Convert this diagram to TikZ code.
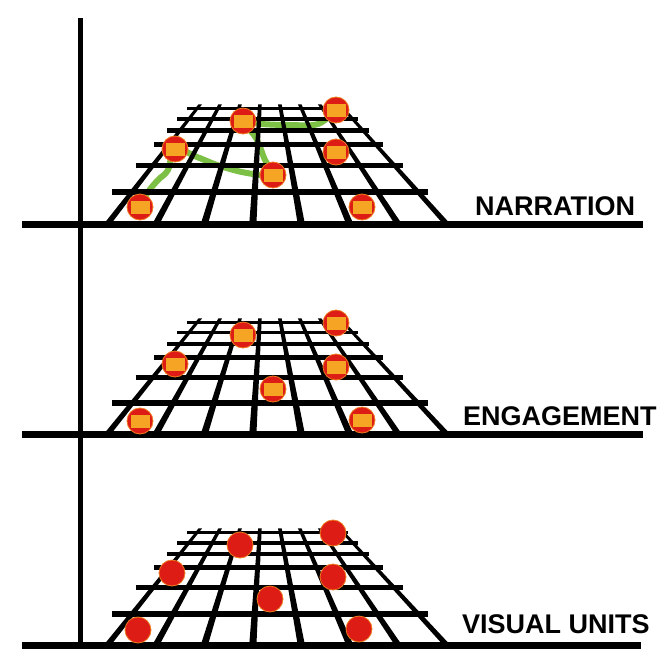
\documentclass[tikz,border=0pt]{standalone}
\usepackage{fontspec}
\setmainfont{Liberation Sans}
\usetikzlibrary{backgrounds}

\definecolor{unitred}{RGB}{222,28,22}
\definecolor{unitorange}{RGB}{245,165,35}
\definecolor{trailgreen}{RGB}{125,192,70}

\tikzset{
  axis/.style={line width=5pt},
  floor/.style={line width=7.5pt},
  trail/.style={draw=trailgreen,line width=6pt,line cap=round,line join=round},
  unit/.style={circle,fill=unitred,draw=unitorange!70!unitred,line width=0.8pt,inner sep=0pt,minimum size=26pt},
  marked/.style={unit,path picture={\fill[unitorange]
      ([xshift=-9.5pt,yshift=-6.5pt]path picture bounding box.center) rectangle
      ([xshift=9.5pt,yshift=6.5pt]path picture bounding box.center);}},
  level/.style={font=\fontsize{27}{30}\selectfont\bfseries,inner sep=0pt,anchor=base west}
}

\begin{document}
\begin{tikzpicture}[x=1pt,y=-1pt]
\useasboundingbox (0,0) rectangle (661,653);

% grids, one per level
\foreach \base/\h in {224.5/116,434.5/112,645.5/113}{
  \foreach \i in {0,...,7}
    \fill ({107+48.6*\i-3.6},\base) -- ({107+48.6*\i+3.6},\base)
      -- ({107+48.6*\i+1.036*(90-27.7*\i)+1.8},{\base-1.036*\h})
      -- ({107+48.6*\i+1.036*(90-27.7*\i)-1.8},{\base-1.036*\h}) -- cycle;
  \foreach \t in {0.28,0.51,0.69,0.81,0.91,1}
    \draw[line width={(7-3.5*\t)*1pt}] ({107+90*\t-0.5*(48.6-27.7*\t)},{\base-\t*\h})
      -- ({447-104*\t+0.25*(48.6-27.7*\t)},{\base-\t*\h});
}

\draw[axis] (80,18)--(80,645.5);
\draw[floor] (22,224.5)--(643,224.5);
\draw[floor] (22,434.5)--(643,434.5);
\draw[floor] (22,645.5)--(641,645.5);

\node[level] (narration) at (475,215) {NARRATION};
\node[level] (engagement) at (463,425) {ENGAGEMENT};
\node[level] (visual) at (462,633) {VISUAL UNITS};

% narration
\node[marked] (t1) at (140,207) {};
\node[marked] (t2) at (175,149) {};
\node[marked] (t3) at (243,121) {};
\node[marked] (t4) at (273,175) {};
\node[marked] (t5) at (336,110) {};
\node[marked] (t6) at (336,152) {};
\node[marked] (t7) at (362,207) {};

\begin{scope}[on background layer]
\draw[trail] plot[smooth,tension=0.6] coordinates {(t1) (148,192) (158,180) (168,170) (t2)
  (197,157) (220,166) (247,173) (t4) (265,160) (256,138) (t3) (262,124) (290,125) (318,124) (t5)};
\end{scope}

% engagement
\node[marked] (m1) at (140,421) {};
\node[marked] (m2) at (175,364) {};
\node[marked] (m3) at (243,335) {};
\node[marked] (m4) at (273,389) {};
\node[marked] (m5) at (336,323) {};
\node[marked] (m6) at (336,367) {};
\node[marked] (m7) at (362,420) {};

% visual units
\node[unit] (b1) at (138,630) {};
\node[unit] (b2) at (172,573) {};
\node[unit] (b3) at (240,545) {};
\node[unit] (b4) at (270,599) {};
\node[unit] (b5) at (333,533) {};
\node[unit] (b6) at (333,577) {};
\node[unit] (b7) at (359,629) {};

\end{tikzpicture}
\end{document}
